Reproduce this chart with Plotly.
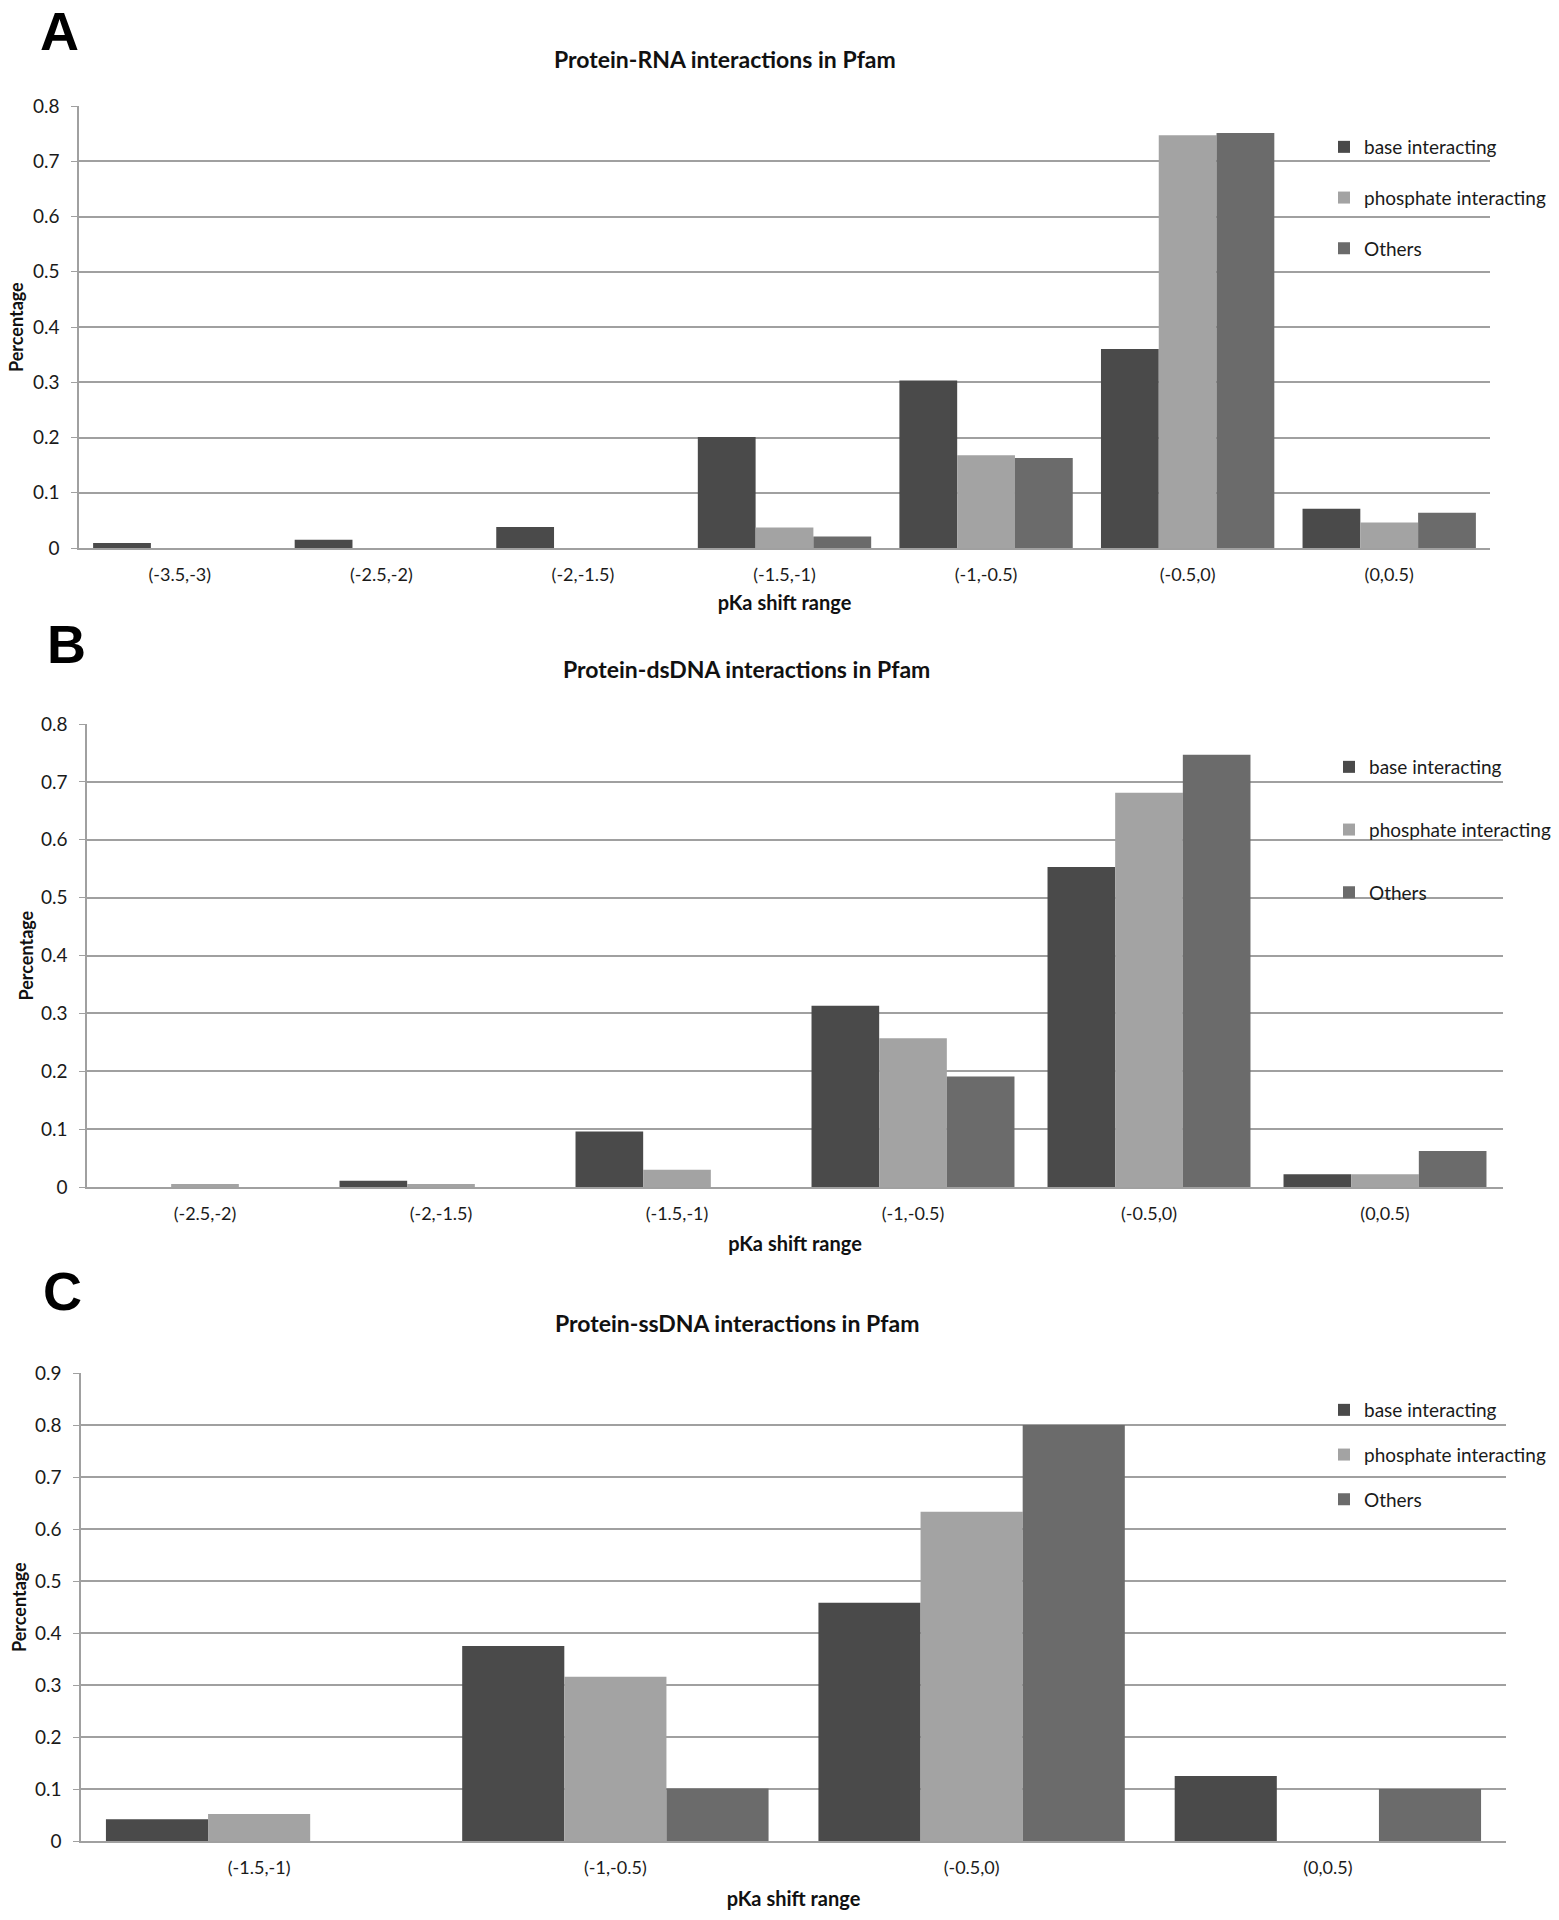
import plotly.graph_objects as go

series_names = ["base interacting", "phosphate interacting", "Others"]
colors = ["#4a4a4a", "#a3a3a3", "#6b6b6b"]

# Panel A: Protein-RNA
cats_a = ["(-3.5,-3)", "(-2.5,-2)", "(-2,-1.5)", "(-1.5,-1)", "(-1,-0.5)", "(-0.5,0)", "(0,0.5)"]
base_a = [0.009, 0.015, 0.038, 0.201, 0.303, 0.360, 0.071]
phos_a = [0.0, 0.0, 0.0, 0.037, 0.168, 0.747, 0.046]
oth_a = [0.0, 0.0, 0.0, 0.021, 0.163, 0.751, 0.064]

# Panel B: Protein-dsDNA
cats_b = ["(-2.5,-2)", "(-2,-1.5)", "(-1.5,-1)", "(-1,-0.5)", "(-0.5,0)", "(0,0.5)"]
base_b = [0.0, 0.011, 0.096, 0.313, 0.553, 0.022]
phos_b = [0.005, 0.005, 0.030, 0.257, 0.681, 0.022]
oth_b = [0.0, 0.0, 0.0, 0.191, 0.747, 0.062]

# Panel C: Protein-ssDNA
cats_c = ["(-1.5,-1)", "(-1,-0.5)", "(-0.5,0)", "(0,0.5)"]
base_c = [0.042, 0.375, 0.458, 0.125]
phos_c = [0.052, 0.316, 0.633, 0.0]
oth_c = [0.0, 0.101, 0.800, 0.100]

titles = ["Protein-RNA interactions in Pfam", "Protein-dsDNA interactions in Pfam",
          "Protein-ssDNA interactions in Pfam"]
letters = ["A", "B", "C"]

W, H = 1559, 1920
FONT = "Lato, 'Open Sans', sans-serif"
GRID = "#a0a0a0"

def px_x(p):
    return p / W

def px_y(p):
    return 1 - p / H

panels = [
    dict(cats=cats_a, vals=[base_a, phos_a, oth_a], left=79, right=1490, top=106, bottom=548,
         rng=0.8, title_xy=(725, 59), letter_xy=(39, 0), legend_xy=(1324, 128), gap=23,
         xstand=12, ytitle_x=16),
    dict(cats=cats_b, vals=[base_b, phos_b, oth_b], left=87, right=1503, top=724, bottom=1187,
         rng=0.8, title_xy=(746, 669), letter_xy=(46, 613), legend_xy=(1329, 748), gap=35,
         xstand=14, ytitle_x=25),
    dict(cats=cats_c, vals=[base_c, phos_c, oth_c], left=81, right=1506, top=1373, bottom=1841,
         rng=0.9, title_xy=(737, 1323), letter_xy=(42, 1260), legend_xy=(1324, 1391), gap=17,
         xstand=15, ytitle_x=19),
]

fig = go.Figure()
annotations = []
layout = {}
for i, p in enumerate(panels):
    n = "" if i == 0 else str(i + 1)
    leg = "legend" if i == 0 else f"legend{i + 1}"
    for s in range(3):
        fig.add_trace(go.Bar(
            x=p["cats"], y=p["vals"][s], name=series_names[s],
            marker=dict(color=colors[s], line=dict(width=0)),
            xaxis="x" + n, yaxis="y" + n, legend=leg,
            legendgroup=f"g{i}{s}",
        ))
    layout["xaxis" + n] = dict(
        domain=[px_x(p["left"]), px_x(p["right"])], anchor="y" + n,
        type="category", showgrid=False, showline=True, linecolor=GRID, linewidth=1.5,
        ticks="", ticklabelstandoff=10,
        tickfont=dict(family=FONT, size=18, color="#1a1a1a"),
        title=dict(text="<b>pKa shift range</b>", font=dict(family=FONT, size=20, color="#111"),
                   standoff=p["xstand"]),
        automargin=False, fixedrange=True,
    )
    layout["yaxis" + n] = dict(
        domain=[px_y(p["bottom"]), px_y(p["top"])], anchor="x" + n,
        range=[0, p["rng"]], dtick=0.1, tickformat="~g",
        showgrid=True, gridcolor=GRID, gridwidth=1.5,
        showline=True, linecolor=GRID, linewidth=1.5,
        ticks="outside", ticklen=6, tickcolor=GRID, ticklabelstandoff=8,
        tickfont=dict(family=FONT, size=19, color="#1a1a1a"),
        zeroline=False, automargin=False, fixedrange=True,
    )
    layout[leg] = dict(
        x=px_x(p["legend_xy"][0]), y=px_y(p["legend_xy"][1]), xanchor="left", yanchor="top",
        bgcolor="rgba(0,0,0,0)", borderwidth=0, tracegroupgap=p["gap"],
        font=dict(family=FONT, size=19, color="#1a1a1a"), itemwidth=30,
    )
    annotations.append(dict(
        text=f"<b>{titles[i]}</b>", x=px_x(p["title_xy"][0]), y=px_y(p["title_xy"][1]),
        xref="paper", yref="paper", xanchor="center", yanchor="middle", showarrow=False,
        font=dict(family=FONT, size=23, color="#111"),
    ))
    annotations.append(dict(
        text="<b>Percentage</b>", x=px_x(p["ytitle_x"]),
        y=px_y((p["top"] + p["bottom"]) / 2),
        xref="paper", yref="paper", xanchor="center", yanchor="middle", showarrow=False,
        textangle=-90, font=dict(family=FONT, size=18, color="#111"),
    ))
    annotations.append(dict(
        text=f"<b>{letters[i]}</b>", x=px_x(p["letter_xy"][0]), y=px_y(p["letter_xy"][1]),
        xref="paper", yref="paper", xanchor="left", yanchor="top", showarrow=False,
        borderpad=0,
        font=dict(family="'Liberation Sans', Arial, sans-serif", size=54, color="#000"),
    ))

fig.update_layout(
    width=W, height=H, margin=dict(l=0, r=0, t=0, b=0, autoexpand=False),
    paper_bgcolor="white", plot_bgcolor="white",
    barmode="group", bargap=0.14, bargroupgap=0,
    annotations=annotations, showlegend=True,
    **layout,
)

fig.write_html("out.html", config={"displayModeBar": False},
               post_script="document.body.style.margin='0px';document.body.style.overflow='hidden';")
